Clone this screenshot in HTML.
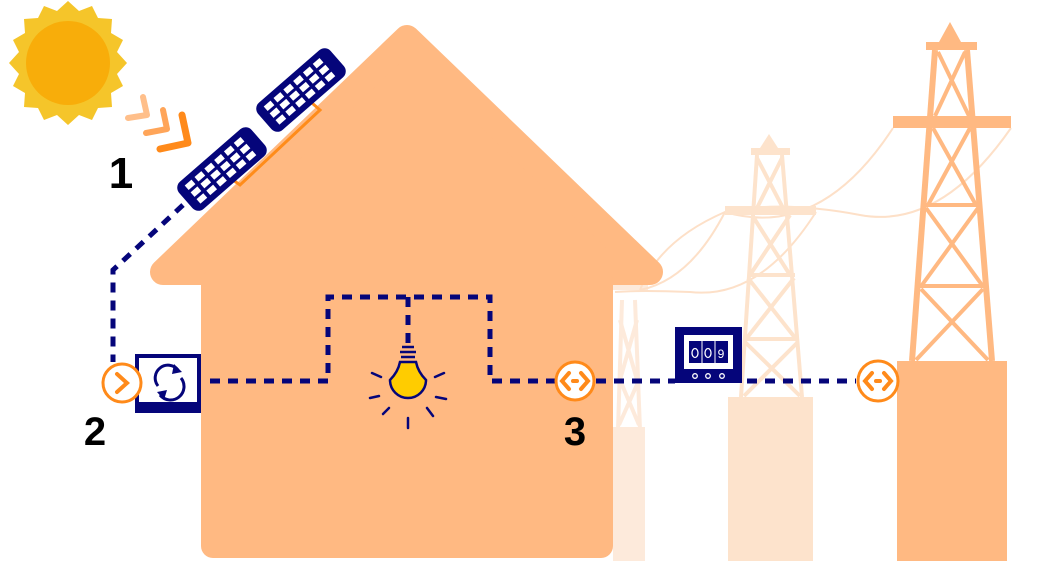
<!DOCTYPE html>
<html><head><meta charset="utf-8"><style>
html,body{margin:0;padding:0;background:#fff;}
svg{display:block;}
text{font-family:"Liberation Sans",sans-serif;font-weight:bold;}
</style></head><body>
<svg width="1063" height="561" viewBox="0 0 1063 561" xmlns="http://www.w3.org/2000/svg">
<g stroke="#fdeadb" stroke-width="4" fill="none">
  <line x1="622" y1="300" x2="618" y2="430"/><line x1="635" y1="300" x2="640" y2="430"/>
  <line x1="620" y1="320" x2="637" y2="380"/><line x1="637" y1="320" x2="620" y2="380"/>
  <line x1="620" y1="380" x2="639" y2="425"/><line x1="639" y1="380" x2="619" y2="425"/>
</g>
<rect x="612" y="282" width="36" height="8" fill="#fdeadb"/>
<rect x="613" y="427" width="32" height="134" fill="#fdeadb"/>
<g stroke="#fde0c8" stroke-width="2" fill="none">
  <path d="M893 128 Q820 240 725 212 Q660 240 640 290"/>
  <path d="M1011 128 Q940 230 860 215 Q780 200 725 212"/>
  <path d="M816 212 Q760 300 690 292 Q640 290 615 292"/>
  <path d="M725 212 Q690 280 640 290"/>
</g>
<g fill="#fde3cc">
  <polygon points="769,134 760,148 778,148"/>
  <rect x="751" y="148" width="39" height="7"/>
  <rect x="725" y="206" width="91" height="9"/>
  <rect x="728" y="397" width="85" height="164"/>
</g>
<g stroke="#fde3cc" stroke-width="4" fill="none">
  <line x1="757" y1="155" x2="741" y2="397"/><line x1="782" y1="155" x2="802" y2="397"/>
  <line x1="757" y1="158" x2="783" y2="208"/><line x1="782" y1="158" x2="757" y2="208"/>
  <line x1="752" y1="215" x2="790" y2="275"/><line x1="790" y1="215" x2="750" y2="275"/>
  <line x1="748" y1="275" x2="795" y2="275"/>
  <line x1="748" y1="278" x2="796" y2="339"/><line x1="794" y1="278" x2="746" y2="339"/>
  <line x1="745" y1="339" x2="798" y2="339"/>
  <line x1="745" y1="342" x2="800" y2="396"/><line x1="798" y1="342" x2="744" y2="396"/>
</g>
<g fill="#ffb982">
  <polygon points="950,22 939,42 961,42"/>
  <rect x="926" y="42" width="51" height="8"/>
  <rect x="893" y="116" width="118" height="12"/>
  <rect x="897" y="361" width="110" height="200"/>
</g>
<g stroke="#ffb982" stroke-width="6" fill="none">
  <line x1="935" y1="50" x2="912" y2="361"/><line x1="967" y1="50" x2="992" y2="361"/>
</g>
<g stroke="#ffb982" stroke-width="4" fill="none">
  <line x1="938" y1="52" x2="969" y2="116"/><line x1="965" y1="52" x2="935" y2="116"/>
  <line x1="933" y1="128" x2="976" y2="205"/><line x1="970" y1="128" x2="928" y2="205"/>
  <line x1="926" y1="205" x2="978" y2="205"/>
  <line x1="926" y1="208" x2="982" y2="285"/><line x1="978" y1="208" x2="922" y2="285"/>
  <line x1="920" y1="286" x2="984" y2="286"/>
  <line x1="921" y1="289" x2="988" y2="360"/><line x1="983" y1="289" x2="916" y2="360"/>
</g>
<g fill="#ffb982">
  <polygon points="407,38 163,272 650,272" stroke="#ffb982" stroke-width="26" stroke-linejoin="round"/>
  <rect x="201" y="270" width="412" height="288" rx="12"/>
</g>
<g transform="translate(68,63)">
  <polygon fill="#f5c52a" points="0,-62 11,-52 24,-57 30,-45 44,-44 43,-30 55,-23 49,-11 59,0 49,11 55,23 43,30 44,44 30,45 24,57 11,52 0,62 -11,52 -24,57 -30,45 -44,44 -43,30 -55,23 -49,11 -59,0 -49,-11 -55,-23 -43,-30 -44,-44 -30,-45 -24,-57 -11,-52"/>
  <circle r="42" fill="#f8ad0a"/>
</g>
<g fill="none" stroke-linecap="round" stroke-linejoin="round" stroke-width="6">
  <polyline points="143,97 147,115 128,118" stroke="#ffbf8a"/>
  <polyline points="163,110 167,129 146,133" stroke="#ffa559"/>
  <polyline points="182,115 188,143 160,149" stroke="#ff8a1a" stroke-width="7"/>
</g>
<g stroke="#ff8c1a" stroke-width="3" fill="none">
  <polyline points="312,103 320,110 240,185 233,180"/>
</g>
<g transform="translate(222,169) rotate(-41)">
  <rect x="-48" y="-18" width="96" height="36" rx="8" fill="#05057a"/>
  <g fill="#fff">
    <rect x="-39" y="-12" width="9" height="6"/><rect x="-26" y="-12" width="9" height="6"/><rect x="-13" y="-12" width="9" height="6"/><rect x="0" y="-12" width="9" height="6"/><rect x="13" y="-12" width="9" height="6"/><rect x="26" y="-12" width="9" height="6"/>
    <rect x="-39" y="-3" width="9" height="6"/><rect x="-26" y="-3" width="9" height="6"/><rect x="-13" y="-3" width="9" height="6"/><rect x="0" y="-3" width="9" height="6"/><rect x="13" y="-3" width="9" height="6"/><rect x="26" y="-3" width="9" height="6"/>
    <rect x="-39" y="6" width="9" height="6"/><rect x="-26" y="6" width="9" height="6"/><rect x="-13" y="6" width="9" height="6"/><rect x="0" y="6" width="9" height="6"/><rect x="13" y="6" width="9" height="6"/><rect x="26" y="6" width="9" height="6"/>
  </g>
</g>
<g transform="translate(301,90) rotate(-41)">
  <rect x="-48" y="-18" width="96" height="36" rx="8" fill="#05057a"/>
  <g fill="#fff">
    <rect x="-39" y="-12" width="9" height="6"/><rect x="-26" y="-12" width="9" height="6"/><rect x="-13" y="-12" width="9" height="6"/><rect x="0" y="-12" width="9" height="6"/><rect x="13" y="-12" width="9" height="6"/><rect x="26" y="-12" width="9" height="6"/>
    <rect x="-39" y="-3" width="9" height="6"/><rect x="-26" y="-3" width="9" height="6"/><rect x="-13" y="-3" width="9" height="6"/><rect x="0" y="-3" width="9" height="6"/><rect x="13" y="-3" width="9" height="6"/><rect x="26" y="-3" width="9" height="6"/>
    <rect x="-39" y="6" width="9" height="6"/><rect x="-26" y="6" width="9" height="6"/><rect x="-13" y="6" width="9" height="6"/><rect x="0" y="6" width="9" height="6"/><rect x="13" y="6" width="9" height="6"/><rect x="26" y="6" width="9" height="6"/>
  </g>
</g>
<g stroke="#05057a" stroke-width="5" fill="none" stroke-dasharray="10,8">
  <polyline points="183,205 113,270 113,362"/>
  <polyline points="210,381 328,381 328,297 490,297 490,381 556,381"/>
  <line x1="408" y1="297" x2="408" y2="345"/>
  <line x1="596" y1="381" x2="675" y2="381"/>
  <line x1="747" y1="381" x2="856" y2="381"/>
</g>
<rect x="137" y="356" width="62" height="55" fill="#fff" stroke="#05057a" stroke-width="4"/>
<rect x="137" y="402" width="64" height="11" fill="#05057a"/>
<g stroke="#05057a" stroke-width="3" fill="none">
  <path d="M178 370 A12 12 0 0 0 158 386"/><path d="M160 395 A12 12 0 0 0 181 378"/>
</g>
<polygon points="174,364 182,372 172,374" fill="#05057a"/>
<polygon points="164,400 157,392 167,390" fill="#05057a"/>
<circle cx="122" cy="383" r="19" fill="#fff" stroke="#ff8a1a" stroke-width="3"/>
<polyline points="117,374 127,383 117,392" stroke="#ff8a1a" stroke-width="4" fill="none" stroke-linecap="round"/>
<g stroke="#05057a" stroke-width="2.5">
  <line x1="402" y1="347" x2="414" y2="347"/><line x1="400" y1="352" x2="416" y2="352"/><line x1="401" y1="357" x2="415" y2="357"/>
  <path d="M400 362 L416 362 Q418 372 426 380 A18 18 0 1 1 390 380 Q398 372 400 362 Z" fill="#ffcc00"/>
</g>
<g stroke="#05057a" stroke-width="2.5" stroke-linecap="round">
  <line x1="372" y1="373" x2="381" y2="377"/><line x1="370" y1="398" x2="379" y2="396"/><line x1="383" y1="414" x2="389" y2="408"/>
  <line x1="408" y1="418" x2="408" y2="428"/><line x1="427" y1="408" x2="433" y2="416"/><line x1="436" y1="397" x2="446" y2="399"/><line x1="435" y1="377" x2="444" y2="373"/>
</g>
<circle cx="575" cy="381" r="19" fill="#fff" stroke="#ff8a1a" stroke-width="3"/>
<g stroke="#ff8a1a" stroke-width="4" fill="none" stroke-linecap="round">
  <polyline points="569,373 562,381 569,389"/><polyline points="581,373 588,381 581,389"/>
  <line x1="573" y1="381" x2="577" y2="381"/>
</g>
<rect x="675" y="327" width="67" height="56" fill="#05057a"/>
<rect x="684" y="335" width="49" height="34" fill="#fff"/>
<rect x="689" y="341" width="39" height="22" fill="#05057a"/>
<g stroke="#fff" stroke-width="1"><line x1="702" y1="341" x2="702" y2="363"/><line x1="715" y1="341" x2="715" y2="363"/></g>
<g fill="none" stroke="#fff" stroke-width="1.3">
  <ellipse cx="695" cy="353" rx="3" ry="4.5"/><ellipse cx="708" cy="353" rx="3" ry="4.5"/>
  <circle cx="695" cy="376" r="2.3"/><circle cx="708" cy="376" r="2.3"/><circle cx="722" cy="376" r="2.3"/>
</g>
<text x="721" y="358" font-size="12" fill="#fff" text-anchor="middle" style="font-weight:normal">9</text>
<circle cx="878" cy="381" r="20" fill="#fff" stroke="#ff8a1a" stroke-width="3"/>
<g stroke="#ff8a1a" stroke-width="4" fill="none" stroke-linecap="round">
  <polyline points="872,373 865,381 872,389"/><polyline points="884,373 891,381 884,389"/>
  <line x1="876" y1="381" x2="880" y2="381"/>
</g>
<text x="121" y="188" font-size="44" text-anchor="middle" fill="#000">1</text>
<text x="95" y="445" font-size="40" text-anchor="middle" fill="#000">2</text>
<text x="575" y="445" font-size="40" text-anchor="middle" fill="#000">3</text>
</svg>
</body></html>
